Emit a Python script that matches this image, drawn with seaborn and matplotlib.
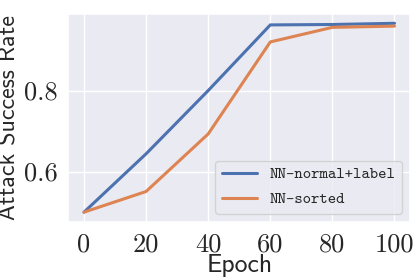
import numpy as np
import pandas as pd
import matplotlib
matplotlib.use("Agg")
import matplotlib.pyplot as plt
import seaborn as sns

sns.set_theme(style="darkgrid")

# Data
epochs = [0, 20, 40, 60, 80, 100]
nn_normal_label = [0.500, 0.644, 0.800, 0.962, 0.963, 0.966]
nn_sorted = [0.500, 0.551, 0.693, 0.920, 0.956, 0.959]

df = pd.DataFrame({
    "Epoch": epochs * 2,
    "rate": nn_normal_label + nn_sorted,
    "model": ["NN-normal+label"] * len(epochs) + ["NN-sorted"] * len(epochs),
})

fig, ax = plt.subplots(figsize=(4.15, 2.77), dpi=100)
sns.lineplot(data=df, x="Epoch", y="rate", hue="model", ax=ax, linewidth=2.2)

ax.set_xticks([0, 20, 40, 60, 80, 100])
ax.set_yticks([0.6, 0.8])
ax.set_xlabel("Epoch", family="cmss10", fontsize=18.5, labelpad=-2)
ax.set_ylabel("Attack Success Rate", family="cmss10", fontsize=17.2, labelpad=2)
for lbl in ax.get_xticklabels() + ax.get_yticklabels():
    lbl.set_family("cmr10")
    lbl.set_fontsize(19)
ax.tick_params(pad=2)

leg = ax.legend(loc="lower right", prop={"family": "cmtt10", "size": 11.5},
                handlelength=2.2, labelspacing=0.6)

fig.subplots_adjust(left=0.165, right=0.988, top=0.95, bottom=0.2)
fig.savefig("out.png", dpi=100)
